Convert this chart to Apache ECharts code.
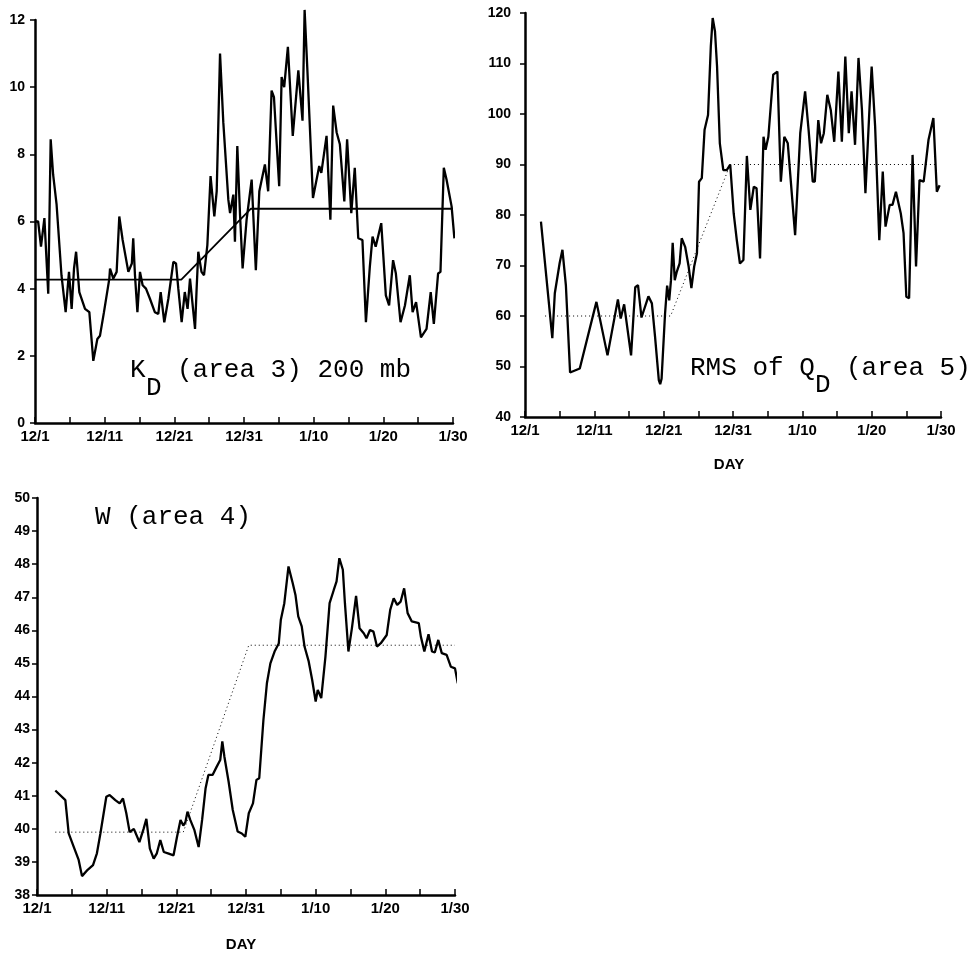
<!DOCTYPE html>
<html><head><meta charset="utf-8">
<script src="https://cdn.jsdelivr.net/npm/echarts/dist/echarts.min.js"></script>
<style>html,body{margin:0;padding:0;background:#fff}#c{width:978px;height:959px}</style>
</head><body><div id="c"></div>
<script>
// ---- x axis ticks (day index from 12/1) ----
const xTickDays = [0, 10, 20, 30, 40, 50, 60];
const xTickLabels = ['12/1', '12/11', '12/21', '12/31', '1/10', '1/20', '1/30'];

// ---- K_D (area 3) 200 mb ----
const kdDays = [0,0.45,0.86,1.35,1.9,2.25,2.6,3.1,3.8,4.4,4.88,5.26,5.6,5.9,6.36,7.18,7.8,8.37,8.95,9.33,9.9,10.67,10.77,11.24,11.72,12.1,12.58,13.4,13.9,14.1,14.35,14.7,15.07,15.45,15.93,16.5,17.2,17.7,18.04,18.56,19.14,19.6,19.86,20.24,20.57,21.05,21.5,21.9,22.25,22.97,23.2,23.44,23.9,24.26,24.74,25.2,25.74,26.08,26.56,27.03,27.75,28.0,28.47,28.7,29.04,29.43,29.8,30.37,31.1,31.7,32.2,33.0,33.47,33.96,34.3,35.05,35.4,35.77,36.3,37.0,37.8,38.4,38.7,39.1,39.9,40.8,41.1,41.85,42.4,42.8,43.3,43.76,44.4,44.8,45.4,45.9,46.4,47.0,47.5,48.06,48.45,48.9,49.7,50.36,50.83,51.4,51.8,52.47,53.1,53.8,54.2,54.7,55.4,56.2,56.8,57.25,57.86,58.2,58.68,59.07,59.8,60.2];
const kdValues = [6.0,6.0,5.25,6.1,3.85,8.45,7.4,6.5,4.4,3.3,4.5,3.4,4.6,5.1,3.9,3.4,3.3,1.85,2.5,2.6,3.3,4.3,4.6,4.3,4.5,6.15,5.45,4.5,4.75,5.5,4.4,3.3,4.5,4.1,4.0,3.7,3.3,3.25,3.9,3.0,3.7,4.4,4.8,4.75,4.0,3.0,3.9,3.4,4.3,2.8,4.0,5.1,4.5,4.4,5.3,7.35,6.15,6.9,11.0,8.95,6.65,6.25,6.8,5.4,8.25,6.2,4.6,6.05,7.25,4.55,6.9,7.7,6.9,9.9,9.7,7.05,10.3,10.0,11.2,8.55,10.5,9.0,12.3,10.5,6.7,7.65,7.45,8.55,6.05,9.45,8.65,8.3,6.6,8.45,6.25,7.6,5.5,5.45,3.0,4.65,5.55,5.25,5.95,3.8,3.5,4.85,4.45,3.0,3.5,4.4,3.3,3.6,2.55,2.8,3.9,2.95,4.45,4.5,7.6,7.25,6.45,5.5];
const kdRefDays = [0, 21, 31, 60];
const kdRefValues = [4.27, 4.27, 6.38, 6.38];

// ---- RMS of Q_D (area 5) ----
const rmsDays = [2.3,3.94,4.3,5.0,5.4,5.9,6.5,7.9,10.3,11.9,13.4,13.8,14.3,15.3,15.9,16.3,16.8,17.8,18.3,18.75,19.3,19.5,19.7,20.2,20.5,20.8,21.05,21.3,21.6,21.9,22.3,22.6,23.1,23.6,24.0,24.4,24.8,25.1,25.5,25.9,26.4,26.8,27.07,27.4,27.7,28.1,28.6,29.1,29.6,30.1,30.55,31.0,31.5,32.0,32.5,33.0,33.4,33.9,34.4,34.7,35.1,35.8,36.4,36.9,37.4,37.9,38.96,39.7,40.4,40.9,41.5,41.8,42.3,42.7,43.1,43.6,44.1,44.6,45.2,45.7,46.2,46.7,47.1,47.6,48.1,48.6,49.1,49.7,50.0,50.5,51.1,51.6,52.0,52.6,53.0,53.5,54.2,54.6,55.0,55.4,55.9,56.4,56.9,57.5,58.2,58.9,59.4,59.8];
const rmsValues = [78.7,55.6,64.5,70.5,73.1,66,48.8,49.6,62.8,52.2,63.3,59.5,62.3,52.2,65.7,66.1,59.7,63.9,62.5,56,47.3,46.5,47.6,60.5,66,63.1,67,74.5,67.1,68.8,70.4,75.4,73.7,69.8,65.5,69.8,72.4,86.6,87.3,96.9,99.8,113.4,119,116.4,109.4,94.2,88.9,88.9,90,80.3,75,70.4,71.1,91.7,81,85.6,85.3,71.4,95.5,92.9,95.5,107.8,108.4,86.6,95.5,94.2,76,96.2,104.5,96.9,86.6,86.6,98.8,94.2,96.2,103.8,100.8,94.5,108.4,94.5,111.4,96.2,104.5,93.9,111.1,100.8,84.3,101.5,109.4,97.5,75,88.6,77.7,82,82,84.6,80.3,76.4,63.8,63.5,91.9,69.8,86.9,86.6,94.9,99.2,84.6,85.9];
const rmsRefDays = [2.9, 21, 29.6, 59.5];
const rmsRefValues = [60, 60, 90, 90];

// ---- W (area 4) ----
const wDays = [2.63,4.07,4.55,5.26,5.98,6.46,7.27,8.04,8.6,9.1,9.95,10.43,11.24,11.87,12.34,12.82,13.3,13.9,14.7,15.3,15.7,16.2,16.75,17.2,17.7,18.2,18.9,19.6,20.1,20.6,21.0,21.3,21.6,22.0,22.6,23.2,23.7,24.2,24.6,25.2,25.8,26.3,26.6,26.9,27.5,28.1,28.8,29.4,29.9,30.4,31.0,31.5,31.9,32.5,33.0,33.5,34.1,34.7,35.0,35.5,36.1,36.7,37.1,37.5,38.0,38.4,39.0,39.5,40.0,40.3,40.8,41.4,42.0,42.6,43.0,43.4,43.9,44.2,44.7,45.2,45.8,46.3,46.9,47.3,47.8,48.3,48.8,49.35,50.2,50.7,51.2,51.7,52.2,52.7,53.2,53.8,54.8,55.1,55.6,56.2,56.7,57.1,57.6,58.1,58.8,59.4,60.0,60.4];
const wValues = [41.16,40.87,39.86,39.46,39.06,38.57,38.76,38.9,39.26,39.86,40.97,41.02,40.87,40.77,40.92,40.47,39.9,40.0,39.6,40.0,40.3,39.4,39.1,39.26,39.66,39.3,39.25,39.2,39.76,40.27,40.1,40.2,40.52,40.27,39.96,39.45,40.27,41.23,41.63,41.63,41.88,42.08,42.64,42.18,41.43,40.57,39.92,39.86,39.76,40.47,40.77,41.48,41.53,43.29,44.4,45.0,45.36,45.6,46.32,46.82,47.93,47.43,47.07,46.42,46.12,45.51,45.06,44.5,43.85,44.2,43.95,45.2,46.82,47.22,47.48,48.18,47.83,46.82,45.36,46.06,47.04,46.06,45.91,45.76,46.01,45.96,45.51,45.61,45.86,46.62,46.97,46.77,46.87,47.27,46.52,46.27,46.22,45.81,45.36,45.88,45.36,45.33,45.71,45.31,45.26,44.9,44.85,44.4];
const wRefDays = [2.63, 21, 30.4, 60];
const wRefValues = [39.9, 39.9, 45.55, 45.55];

const pairs = (xs, ys) => xs.map((x, i) => [x, ys[i]]);

const chart = echarts.init(document.getElementById('c'), null, {renderer: 'canvas'});

const tickFont = {fontFamily: 'Liberation Sans', fontWeight: 'bold', color: '#000'};
function xAxisOf(gi) {
  return {
    type: 'value', gridIndex: gi, min: 0, max: 60, interval: 5,
    axisLine: {lineStyle: {color: '#000', width: 2.5}},
    axisTick: {inside: true, length: 6, lineStyle: {color: '#000', width: 1.5}},
    splitLine: {show: false},
    axisLabel: Object.assign({
      fontSize: 15, margin: 6,
      formatter: v => { const i = xTickDays.indexOf(v); return i >= 0 ? xTickLabels[i] : ''; }
    }, tickFont)
  };
}
function yAxisOf(gi, min, max, interval, margin) {
  return {
    type: 'value', gridIndex: gi, min: min, max: max, interval: interval,
    axisLine: {show: true, lineStyle: {color: '#000', width: 2.5}},
    axisTick: {show: true, inside: false, length: 5, lineStyle: {color: '#000', width: 1.5}},
    splitLine: {show: false},
    axisLabel: Object.assign({fontSize: 14, margin: margin}, tickFont)
  };
}
const curve = (xi, data) => ({
  type: 'line', xAxisIndex: xi, yAxisIndex: xi, data: data, showSymbol: false, clip: false,
  lineStyle: {color: '#000', width: 2.3}, z: 3
});
const ref = (xi, data, dotted) => ({
  type: 'line', xAxisIndex: xi, yAxisIndex: xi, data: data, showSymbol: false, clip: false,
  lineStyle: {color: '#000', width: dotted ? 1 : 1.8, type: dotted ? [1, 3] : 'solid'}, z: 2
});

const mono = 'Liberation Mono';
const txt = (text, x, y, size) => ({
  type: 'text', x: x, y: y,
  style: {text: text, font: size + 'px "' + mono + '"', fill: '#000', verticalAlign: 'middle', align: 'left'}
});

chart.setOption({
  animation: false,
  backgroundColor: '#fff',
  grid: [
    {left: 35, top: 20, width: 418, height: 403},
    {left: 525, top: 13, width: 416, height: 404},
    {left: 37, top: 498, width: 418, height: 397}
  ],
  xAxis: [xAxisOf(0), xAxisOf(1), xAxisOf(2)],
  yAxis: [yAxisOf(0, 0, 12, 2, 10), yAxisOf(1, 40, 120, 10, 14), yAxisOf(2, 38, 50, 1, 7)],
  series: [
    ref(0, pairs(kdRefDays, kdRefValues), false),
    curve(0, pairs(kdDays, kdValues)),
    ref(1, pairs(rmsRefDays, rmsRefValues), true),
    curve(1, pairs(rmsDays, rmsValues)),
    ref(2, pairs(wRefDays, wRefValues), true),
    curve(2, pairs(wDays, wValues))
  ],
  graphic: [
    txt('K', 130, 370, 26),
    txt('D', 146, 388, 26),
    txt('(area 3) 200 mb', 177, 370, 26),
    txt('RMS of Q', 690, 368, 26),
    txt('D', 815, 385, 26),
    txt('(area 5)', 846, 368, 26),
    txt('W (area 4)', 95, 517, 26),
    {type: 'text', x: 729, y: 465, style: {text: 'DAY', font: 'bold 15px "Liberation Sans"', fill: '#000', align: 'center', verticalAlign: 'middle'}},
    {type: 'text', x: 241, y: 945, style: {text: 'DAY', font: 'bold 15px "Liberation Sans"', fill: '#000', align: 'center', verticalAlign: 'middle'}}
  ]
});
</script>
</body></html>
